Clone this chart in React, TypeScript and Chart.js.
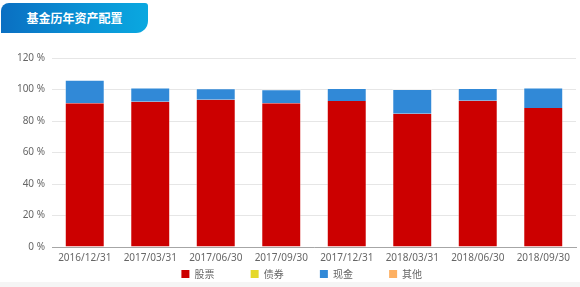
import React, { useEffect, useRef } from "react";
import { Chart, registerables } from "chart.js";

Chart.register(...registerables);

const categories = [
  "2016/12/31",
  "2017/03/31",
  "2017/06/30",
  "2017/09/30",
  "2017/12/31",
  "2018/03/31",
  "2018/06/30",
  "2018/09/30",
];
const stockValues = [91.2, 92.3, 93.5, 91.2, 92.7, 84.6, 92.9, 88.3];
const bondValues = [0, 0, 0, 0, 0, 0, 0, 0];
const cashValues = [15.0, 8.9, 7.3, 8.9, 8.3, 15.7, 8.1, 12.9];
const otherValues = [0, 0, 0, 0, 0, 0, 0, 0];
const seriesNames = ["股票", "债券", "现金", "其他"];
const yTicks = [0, 20, 40, 60, 80, 100, 120];
const titleText = "基金历年资产配置";

const FONT = '"Noto Sans", "Noto Sans CJK SC", sans-serif';
const CJK_FONT = '"Noto Sans CJK SC", "Noto Sans", sans-serif';

export default function App() {
  const ref = useRef<HTMLCanvasElement | null>(null);

  useEffect(() => {
    if (!ref.current) return;
    const legendPad = ["\u3000\u3000\u3000 ", "\u3000\u3000\u3000 ", "\u3000\u3000\u3000 ", "\u3000\u3000  "];
    const chart = new Chart(ref.current, {
      type: "bar",
      data: {
        labels: categories,
        datasets: [
          {
            label: seriesNames[0],
            data: stockValues,
            backgroundColor: "#cc0000",
            borderColor: "rgba(255,255,255,0.4)",
            borderWidth: { top: 0, bottom: 0, left: 1, right: 1 },
            borderSkipped: false,
          },
          {
            label: seriesNames[1],
            data: bondValues,
            backgroundColor: "#e5d82a",
            borderWidth: 0,
          },
          {
            label: seriesNames[2],
            data: cashValues,
            backgroundColor: "#3189d7",
            borderColor: "rgba(255,255,255,0.45)",
            borderWidth: { top: 1, bottom: 0, left: 1, right: 1 },
            borderSkipped: false,
          },
          {
            label: seriesNames[3],
            data: otherValues,
            backgroundColor: "#fdb062",
            borderWidth: 0,
          },
        ],
      },
      options: {
        animation: false,
        responsive: false,
        events: [],
        datasets: {
          bar: { categoryPercentage: 1, barPercentage: 0.61 },
        },
        layout: { padding: { top: 58, right: 4, left: 0, bottom: 0 } },
        plugins: {
          tooltip: { enabled: false },
          legend: {
            position: "bottom",
            fullSize: false,
            labels: {
              boxWidth: 8,
              boxHeight: 8,
              padding: 4,
              color: "#666",
              font: { size: 10, family: CJK_FONT },
              generateLabels: (c: any) => {
                const base = Chart.defaults.plugins.legend.labels.generateLabels(c);
                return base.map((it: any, i: number) => ({
                  ...it,
                  text: it.text + legendPad[i],
                  lineWidth: 0,
                  strokeStyle: "transparent",
                }));
              },
            },
          },
        },
        scales: {
          x: {
            stacked: true,
            grid: { display: false, drawTicks: false },
            border: { display: true, color: "#a6a6a6", width: 1 },
            ticks: {
              color: "#666",
              padding: 5,
              maxRotation: 0,
              autoSkip: false,
              font: { size: 10, family: FONT },
            },
            afterFit: (s: any) => {
              s.height = 18;
            },
          },
          y: {
            stacked: true,
            min: 0,
            max: 120,
            afterBuildTicks: (s: any) => {
              s.ticks = yTicks.map((v) => ({ value: v }));
            },
            grid: { color: "#e6e6e6", drawTicks: false },
            border: { display: false },
            ticks: {
              color: "#666",
              padding: 7,
              font: { size: 10, family: FONT },
              callback: (v: any) => v + " %",
            },
            afterFit: (s: any) => {
              s.width = 52;
            },
          },
        },
      },
    });
    return () => chart.destroy();
  }, []);

  return (
    <div
      style={{
        position: "fixed",
        left: 0,
        top: 0,
        width: 580,
        height: 287,
        background: "#fff",
        overflow: "hidden",
      }}
    >
      <div
        style={{
          position: "absolute",
          left: 0,
          top: 282,
          width: 580,
          height: 5,
          background: "#f5f5f5",
        }}
      />
      <div
        style={{
          position: "absolute",
          left: 1,
          top: 3,
          width: 147,
          height: 30,
          background: "linear-gradient(90deg, #0a6fc2 0%, #0a94d6 60%, #0aa8e0 100%)",
          borderRadius: "8px 3px 12px 0",
          color: "#fff",
          fontFamily: CJK_FONT,
          fontWeight: 700,
          fontSize: 12,
          lineHeight: "30px",
          textAlign: "center",
          letterSpacing: 0,
        }}
      >
        {titleText}
      </div>
      <canvas
        ref={ref}
        width={580}
        height={289}
        style={{ position: "absolute", left: 0, top: 0, width: 580, height: 289 }}
      />
    </div>
  );
}
